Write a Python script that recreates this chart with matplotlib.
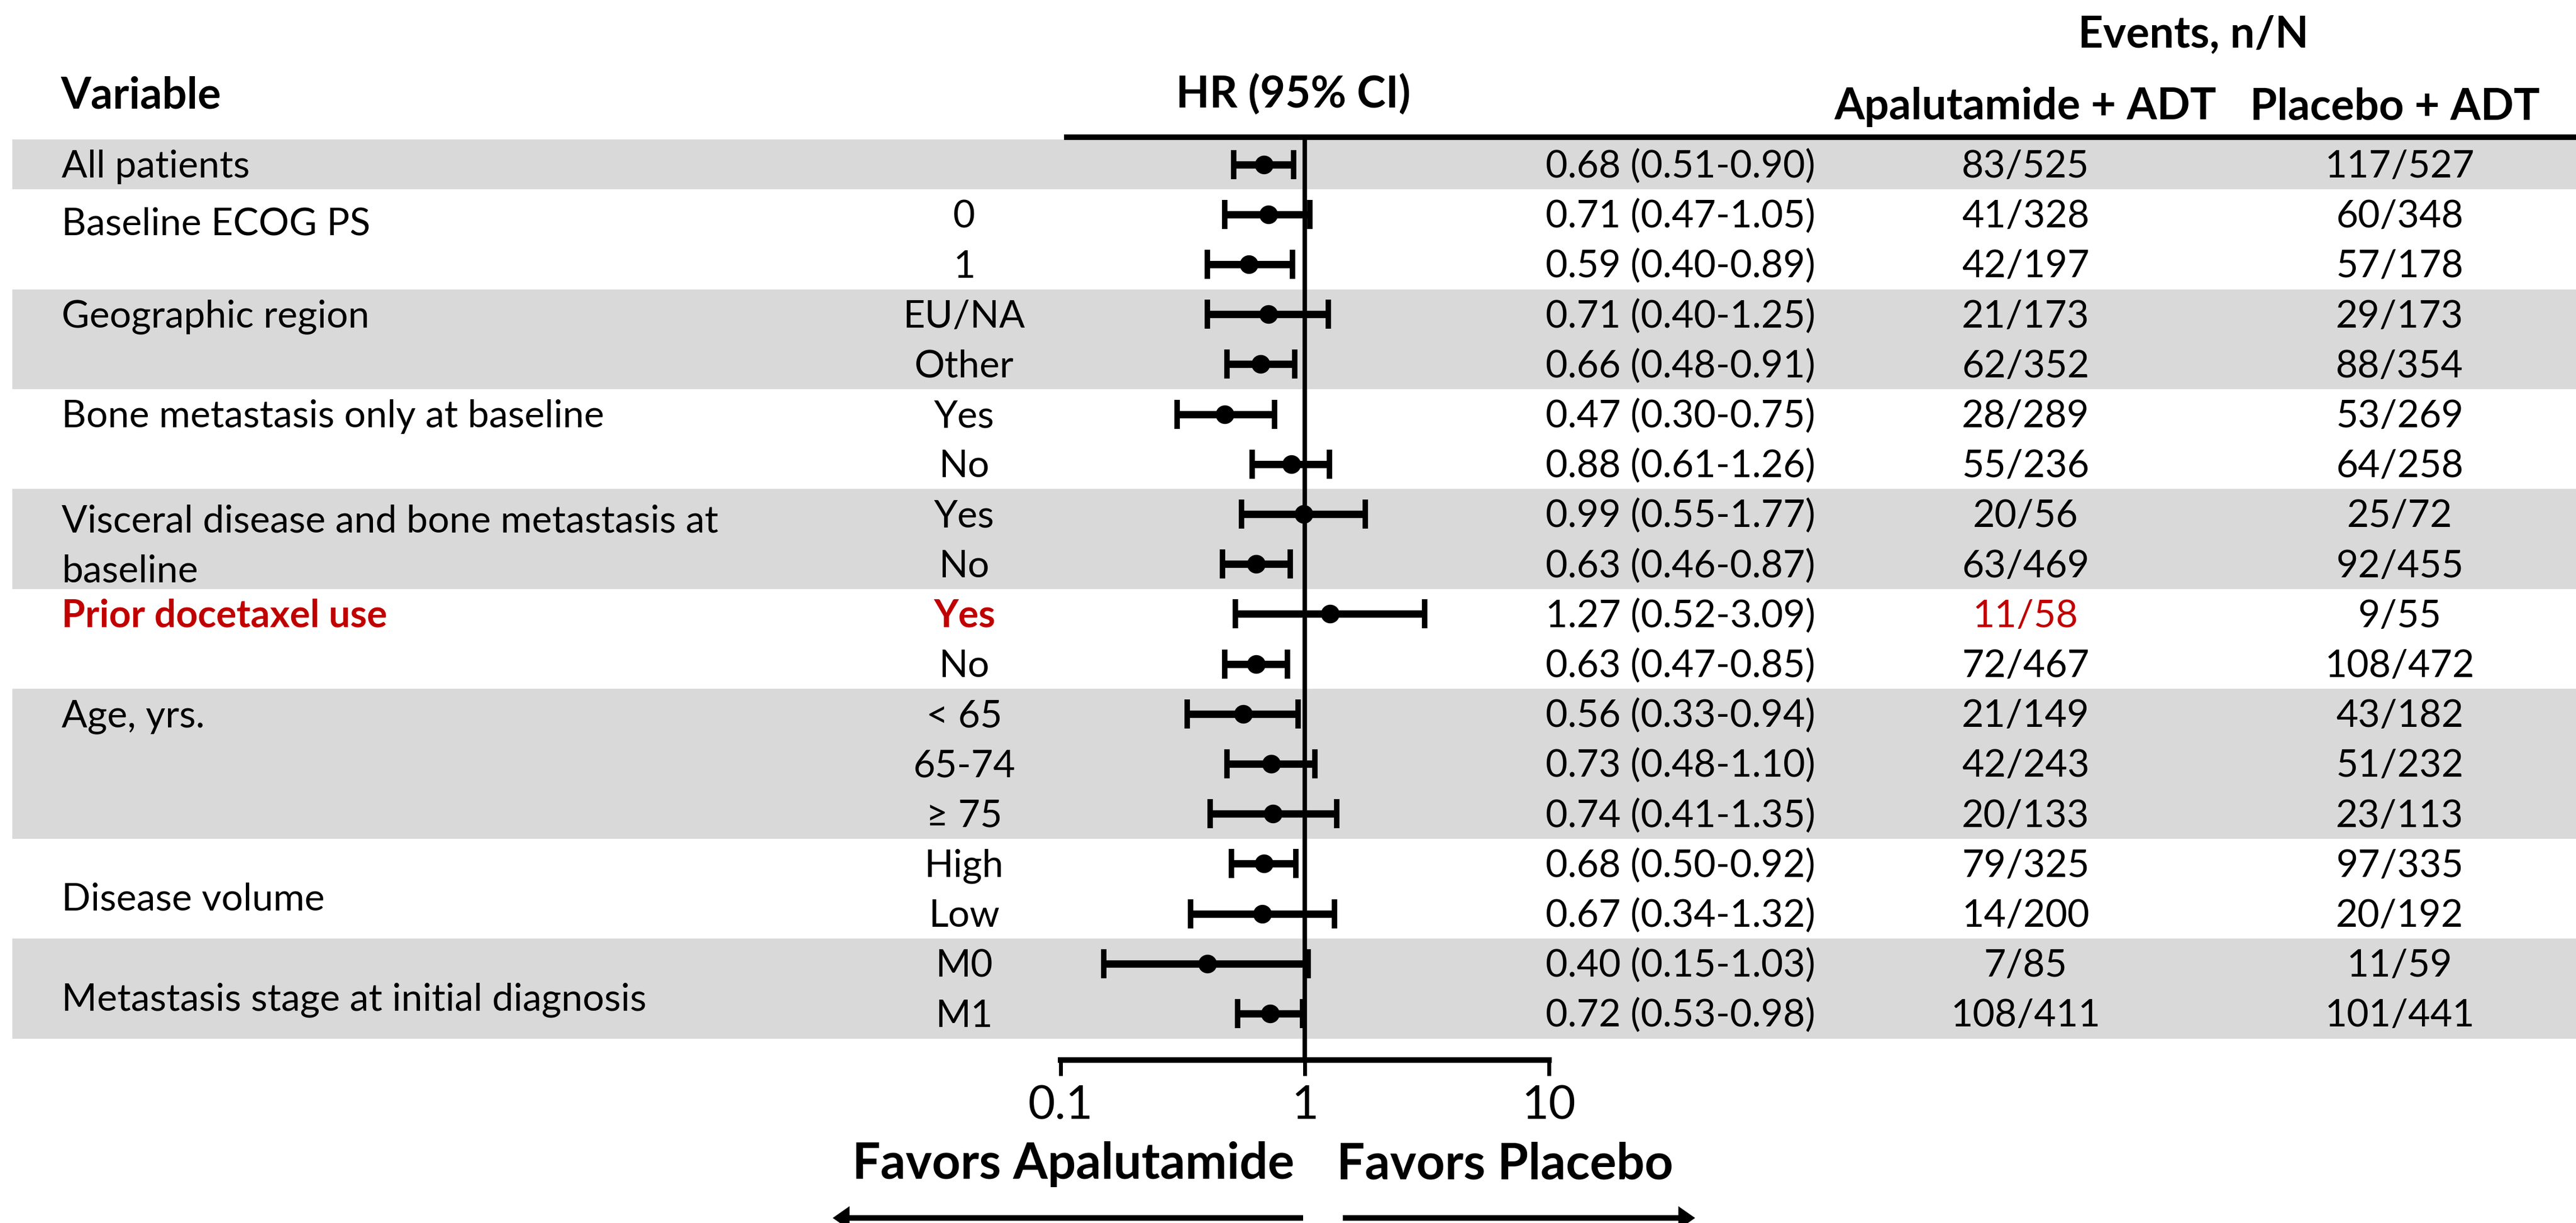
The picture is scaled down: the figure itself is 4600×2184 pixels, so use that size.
import numpy as np
import matplotlib
matplotlib.use("Agg")
import matplotlib.pyplot as plt

plt.rcParams['font.family'] = ['Lato', 'DejaVu Sans']

# ---- data ----
group_labels = ["All patients", "Baseline ECOG PS", "Geographic region",
                "Bone metastasis only at baseline",
                "Visceral disease and bone metastasis at\nbaseline",
                "Prior docetaxel use", "Age, yrs.", "Disease volume",
                "Metastasis stage at initial diagnosis"]
group_sizes = [1, 2, 2, 2, 2, 2, 3, 2, 2]
group_label_shift = [0, 0.15, 0, 0, 0.1, 0, 0, 0.67, 0.67]

subgroups = ["", "0", "1", "EU/NA", "Other", "Yes", "No", "Yes", "No",
             "Yes", "No", "< 65", "65-74", "\u2265 75", "High", "Low", "M0", "M1"]
hr = np.array([0.68, 0.71, 0.59, 0.71, 0.66, 0.47, 0.88, 0.99, 0.63,
               1.27, 0.63, 0.56, 0.73, 0.74, 0.68, 0.67, 0.40, 0.72])
ci_low = np.array([0.51, 0.47, 0.40, 0.40, 0.48, 0.30, 0.61, 0.55, 0.46,
                   0.52, 0.47, 0.33, 0.48, 0.41, 0.50, 0.34, 0.15, 0.53])
ci_high = np.array([0.90, 1.05, 0.89, 1.25, 0.91, 0.75, 1.26, 1.77, 0.87,
                    3.09, 0.85, 0.94, 1.10, 1.35, 0.92, 1.32, 1.03, 0.98])
events_apa = ["83/525", "41/328", "42/197", "21/173", "62/352", "28/289",
              "55/236", "20/56", "63/469", "11/58", "72/467", "21/149",
              "42/243", "20/133", "79/325", "14/200", "7/85", "108/411"]
events_pbo = ["117/527", "60/348", "57/178", "29/173", "88/354", "53/269",
              "64/258", "25/72", "92/455", "9/55", "108/472", "43/182",
              "51/232", "23/113", "97/335", "20/192", "11/59", "101/441"]
highlight_row = 9
highlight_group = 5

RED = '#C00000'
GRAY = '#D9D9D9'
FS = 49      # body text
FS_H = 56    # headers
FS_AX = 60   # axis labels

W, H = 4600, 2184
fig = plt.figure(figsize=(W / 100, H / 100), dpi=100)
bg = fig.add_axes([0, 0, 1, 1])
bg.set_xlim(0, W)
bg.set_ylim(H, 0)
bg.axis('off')

row0, row_h = 293.6, 89.2
n = len(hr)
row_y = row0 + row_h * np.arange(n)
base_off = 23.5  # baseline below row centre

# shaded bands for alternating groups
starts = np.cumsum([0] + group_sizes[:-1])
for g, (s, k) in enumerate(zip(starts, group_sizes)):
    if g % 2 == 0:
        bg.axhspan(row_y[s] - row_h / 2, row_y[s + k - 1] + row_h / 2,
                   xmin=22 / W, xmax=1, color=GRAY, lw=0, zorder=0)
    color = RED if g == highlight_group else 'black'
    weight = 'bold' if g == highlight_group else 'normal'
    for j, line in enumerate(group_labels[g].split('\n')):
        bg.text(110, row_y[s] + row_h * (group_label_shift[g] + j) + base_off,
                line, fontsize=FS, color=color, fontweight=weight,
                ha='left', va='baseline')

for i in range(n):
    y = row_y[i] + base_off
    hl = i == highlight_row
    bg.text(1722, y, subgroups[i], fontsize=FS, ha='center', va='baseline',
            color=RED if hl else 'black', fontweight='bold' if hl else 'normal')
    bg.text(2760, y, f"{hr[i]:.2f} ({ci_low[i]:.2f}-{ci_high[i]:.2f})",
            fontsize=FS, ha='left', va='baseline')
    bg.text(3617, y, events_apa[i], fontsize=FS, ha='center', va='baseline',
            color=RED if hl else 'black')
    bg.text(4285, y, events_pbo[i], fontsize=FS, ha='center', va='baseline')

# headers
bg.text(108, 193, "Variable", fontsize=FS_H, fontweight='bold', va='baseline')
bg.text(2309, 193, "HR (95% CI)", fontsize=FS_H, fontweight='bold',
        ha='center', va='baseline')
bg.text(3917, 85, "Events, n/N", fontsize=FS_H, fontweight='bold',
        ha='center', va='baseline')
bg.text(3617, 213, "Apalutamide + ADT", fontsize=FS_H, fontweight='bold',
        ha='center', va='baseline')
bg.text(4277, 213, "Placebo + ADT", fontsize=FS_H, fontweight='bold',
        ha='center', va='baseline')
bg.plot([1900, W], [245, 245], color='black', lw=7.2, solid_capstyle='butt')

# favours labels and arrows
bg.text(2311, 2105, "Favors Apalutamide", fontsize=64, fontweight='bold',
        ha='right', va='baseline')
bg.text(2387, 2105, "Favors Placebo", fontsize=64, fontweight='bold',
        ha='left', va='baseline')
bg.arrow(2327, 2175, -840, 0, width=10, head_width=42, head_length=30,
         length_includes_head=True, color='black', lw=0)
bg.arrow(2398, 2175, 629, 0, width=10, head_width=42, head_length=30,
         length_includes_head=True, color='black', lw=0)

# forest plot axes (log scale)
top_px, bot_px, left_px, right_px = 245, 1893, 1894, 2766
ax = fig.add_axes([left_px / W, (H - bot_px) / H,
                   (right_px - left_px) / W, (bot_px - top_px) / H])
ax.patch.set_visible(False)
ax.set_xscale('log')
ax.set_xlim(0.1, 10)
ax.set_ylim(bot_px, top_px)
for s in ['top', 'right', 'left']:
    ax.spines[s].set_visible(False)
ax.spines['bottom'].set_linewidth(7.2)
ax.set_xticks([0.1, 1, 10])
ax.set_xticklabels(['0.1', '1', '10'])
ax.xaxis.set_minor_locator(matplotlib.ticker.NullLocator())
ax.tick_params(axis='x', length=20, width=5, labelsize=FS_AX, pad=12,
               direction='out')
ax.set_yticks([])
ax.axvline(1, color='black', lw=5.8, zorder=1)
ax.errorbar(hr, row_y, xerr=[hr - ci_low, ci_high - hr], fmt='o',
            color='black', ms=23, elinewidth=9.5, capsize=19, capthick=7,
            zorder=3)

fig.savefig('out.png', dpi=100)
